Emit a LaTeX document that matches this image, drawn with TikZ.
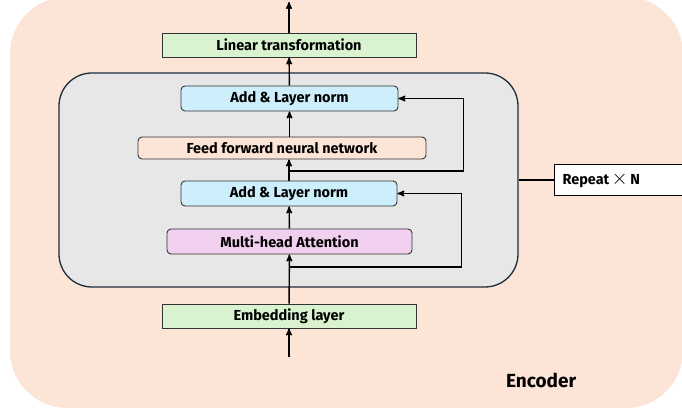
\documentclass[tikz,border=0pt]{standalone}
\usepackage{fontspec}
\setmainfont{Fira Sans}
\usetikzlibrary{arrows, positioning, calc}

\definecolor{encpeach}{HTML}{FCE4D7}
\definecolor{layergray}{HTML}{E7E7E7}
\definecolor{layeredge}{HTML}{1C2C3A}
\definecolor{boxgreen}{HTML}{D9F2D0}
\definecolor{boxblue}{HTML}{CDEEFB}
\definecolor{boxpink}{HTML}{F1CFEE}

\begin{document}
\begin{tikzpicture}[x=1pt,y=1pt,>=stealth',line width=1.4pt,
  block/.style={draw=black!80,line width=0.9pt,inner sep=0pt,minimum height=24pt,
    font=\bfseries\fontsize{14.5}{16}\selectfont},
  norm node/.style={block,rounded corners=4pt,fill=boxblue,minimum width=216pt,minimum height=25pt},
  lin node/.style={block,fill=boxgreen,minimum width=254pt}]
  \useasboundingbox (0,0) rectangle (682,411);
  \fill[encpeach,rounded corners=57pt] (10,3) rectangle (683,414);
  \node[draw=layeredge,fill=layergray,line width=1.3pt,rounded corners=33pt,
    minimum width=459pt,minimum height=214pt] (layer) at (288.5,231) {};

  \node[lin node] (emb) at (289,95) {Embedding layer};
  \node[block,rounded corners=4pt,fill=boxpink,minimum width=245pt,minimum height=25pt] (mha) at (289.5,169.5) {Multi-head Attention};
  \node[norm node] (add2) at (289,217.5) {Add \& Layer norm};
  \node[block,rounded corners=4pt,fill=encpeach,minimum width=288pt,minimum height=22pt] (ff) at (282,263) {Feed forward neural network};
  \node[norm node,minimum width=217pt] (add1) at (289.5,312.5) {Add \& Layer norm};
  \node[lin node] (lin) at (289,366) {Linear transformation};

  \coordinate (in) at (289,54);
  \coordinate (out) at (289,409);
  \coordinate (s2) at (289,144);
  \coordinate (s1) at (289,240);

  \path[->]
    (in) edge (emb)
    (emb) edge (mha)
    (mha) edge (add2)
    (add2.north) edge (add2.north |- ff.south)
    (add1.south |- ff.north) edge (add1.south)
    (add1) edge (lin)
    (lin) edge (out);
  \draw[->] (s2) -| ([xshift=64pt]add2.east) -- (add2.east);
  \draw[->] (s1) -| ([xshift=65pt]add1.east) -- (add1.east);

  \node[draw=black,fill=white,line width=1pt,anchor=west,minimum height=26pt,
    text width=140pt,inner sep=8pt,align=left,font=\bfseries\fontsize{14.5}{16}\selectfont]
    (rep) at (554,231) {Repeat\,{\fontsize{20}{16}\selectfont$\times$}\,N};
  \draw[line width=1.2pt] (layer.east) -- (rep.west);

  \node[font=\bfseries\fontsize{19}{21}\selectfont,anchor=west] (enc) at (502,31) {Encoder};
\end{tikzpicture}
\end{document}
